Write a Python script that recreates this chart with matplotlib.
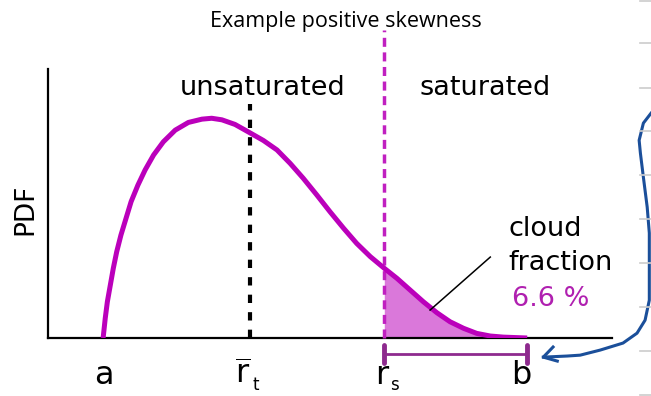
import matplotlib
matplotlib.use("Agg")
import matplotlib.pyplot as plt
from matplotlib.lines import Line2D

plt.rcParams['font.family'] = ['DejaVu Sans']
plt.rcParams['mathtext.fontset'] = 'dejavusans'

# ---- data (x: a=0, b=1; y: PDF normalised to peak = 1)
pdf_x = [0.0, 0.005, 0.010, 0.017, 0.024, 0.032, 0.042, 0.054, 0.066, 0.082,
         0.099, 0.119, 0.142, 0.170, 0.201, 0.233, 0.256, 0.280, 0.311, 0.347,
         0.378, 0.410, 0.441, 0.472, 0.504, 0.535, 0.567, 0.598, 0.630, 0.663,
         0.693, 0.724, 0.755, 0.787, 0.818, 0.850, 0.881, 0.913, 0.944, 1.0]
pdf_y = [0.0, 0.090, 0.165, 0.241, 0.317, 0.392, 0.468, 0.544, 0.620, 0.695,
         0.764, 0.832, 0.892, 0.945, 0.980, 0.995, 0.999, 0.992, 0.971, 0.932,
         0.898, 0.855, 0.794, 0.726, 0.650, 0.574, 0.499, 0.430, 0.370, 0.317,
         0.271, 0.218, 0.165, 0.115, 0.074, 0.044, 0.021, 0.009, 0.004, 0.0]

a_val, rt_val, rs_val, b_val = 0.0, 0.347, 0.663, 1.0
cloud_fraction = 6.6

# hand-drawn blue arrow (data coords)
blue_x = [1.292, 1.274, 1.264, 1.267, 1.274, 1.283, 1.288, 1.288, 1.288, 1.278,
          1.259, 1.226, 1.172, 1.125, 1.094, 1.038]
blue_y = [1.022, 0.977, 0.899, 0.840, 0.731, 0.595, 0.477, 0.322, 0.172, 0.081,
          0.022, -0.023, -0.055, -0.078, -0.082, -0.087]
head_x = [1.061, 1.038, 1.071]
head_y = [-0.041, -0.087, -0.105]

# notebook ruling marks on the right edge (figure fraction)
rule_y = [0.997, 0.891, 0.778, 0.669, 0.558, 0.447, 0.336, 0.225, 0.114, 0.003]

MAG = '#BB00BB'
FILL = '#DA78DA'
PURPLE = '#8E2A8E'
BLUE = '#1B4F9A'

fig = plt.figure(figsize=(6.51, 3.96), dpi=100)
ax = fig.add_axes([48/651, 1-338/396, (612-48)/651, (338-69)/396])
ax.set_xlim(-0.130, 1.200)
ax.set_ylim(0, 1.223)
for s in ['top', 'right']:
    ax.spines[s].set_visible(False)
for s in ['left', 'bottom']:
    ax.spines[s].set_linewidth(1.6)
ax.set_yticks([])
ax.set_xticks([])

# shaded tail
tail_x = [x for x in pdf_x if x >= rs_val]
tail_y = [y for x, y in zip(pdf_x, pdf_y) if x >= rs_val]
ax.fill_between(tail_x, 0, tail_y, color=FILL, linewidth=0, zorder=2)
ax.plot(pdf_x, pdf_y, color=MAG, lw=3.6, solid_capstyle='butt',
        solid_joinstyle='round', zorder=4)

# vertical dashed lines
ax.plot([rt_val, rt_val], [0, 1.064], color='black', lw=3, dashes=(2, 2.2), zorder=3)
ax.plot([rs_val, rs_val], [0, 1.40], color='#C020C0', lw=2.5, dashes=(2.6, 1.6),
        zorder=3, clip_on=False)

# x-axis labels
lab_kw = dict(ha='center', va='baseline', fontsize=23, clip_on=False)
sub_kw = dict(ha='center', va='baseline', fontsize=12, clip_on=False)
ax.text(a_val + 0.002, -0.209, 'a', **lab_kw)
ax.text(rt_val - 0.017, -0.209, r'$\overline{\mathrm{r}}$', **lab_kw)
ax.text(rt_val + 0.013, -0.236, 't', **sub_kw)
ax.text(rs_val - 0.005, -0.209, 'r', **lab_kw)
ax.text(rs_val + 0.025, -0.238, 's', **sub_kw)
ax.text(b_val - 0.014, -0.209, 'b', **lab_kw)

# region labels
ax.text(0.377, 1.105, 'unsaturated', ha='center', va='baseline', fontsize=19.5)
ax.text(0.901, 1.105, 'saturated', ha='center', va='baseline', fontsize=19.5)
ax.text(-0.041, 0.48, 'PDF', transform=ax.transAxes, rotation=90,
        ha='center', va='center', fontsize=19)

# cloud fraction annotation
ax.text(0.955, 0.464, 'cloud', ha='left', va='baseline', fontsize=19.5)
ax.text(0.955, 0.309, 'fraction', ha='left', va='baseline', fontsize=19.5)
ax.text(0.965, 0.145, f'{cloud_fraction} %', ha='left', va='baseline', fontsize=19.5,
        color='#B020B0')
ax.plot([0.913, 0.771], [0.368, 0.127], color='black', lw=1.1, zorder=5)

# purple bracket under the axis
ax.plot([rs_val, b_val], [-0.073, -0.073], color=PURPLE, lw=2, clip_on=False)
for xv in [rs_val, b_val]:
    ax.plot([xv, xv], [-0.034, -0.112], color=PURPLE, lw=3.5,
            solid_capstyle='round', clip_on=False)

# blue hand-drawn arrow
ax.plot(blue_x, blue_y, color=BLUE, lw=2.2, clip_on=False, solid_joinstyle='round')
ax.plot(head_x, head_y, color=BLUE, lw=2.2, clip_on=False, solid_joinstyle='round')

# title
fig.text(346/651, 1-21/396, 'Example positive skewness', ha='center', va='center',
         fontsize=15.5, family='Open Sans')

# right-edge ruling marks
for yv in rule_y:
    fig.add_artist(Line2D([0.983, 1.0], [yv, yv], color='#CCCCCC', lw=1.2))

fig.savefig('out.png', dpi=100)
